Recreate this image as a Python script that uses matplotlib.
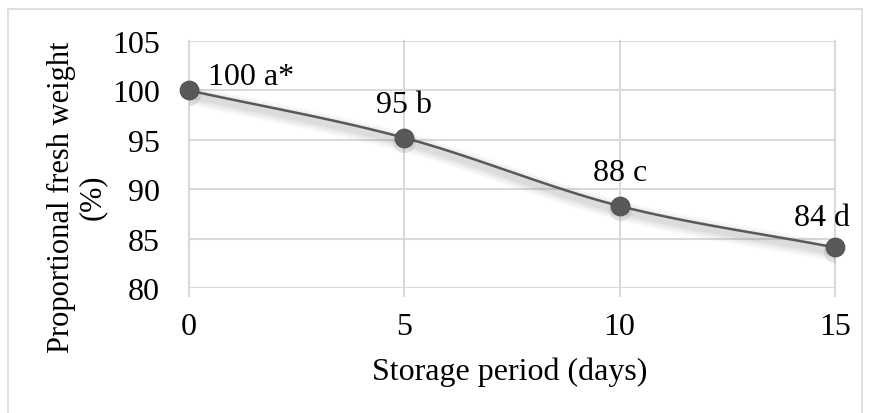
import numpy as np
import matplotlib
matplotlib.use("Agg")
import matplotlib.pyplot as plt
from matplotlib.lines import Line2D

days = [0, 5, 10, 15]
weight = [100.0, 95.2, 88.3, 84.1]
labels = ["100 a*", "95 b", "88 c", "84 d"]
yticks = [80, 85, 90, 95, 100, 105]
xticks = [0, 5, 10, 15]

plt.rcParams['font.family'] = ['Liberation Serif', 'DejaVu Serif']
FS = 23

W, H = 871, 414
PT = 72 / 100  # points per pixel
fig = plt.figure(figsize=(W/100, H/100), dpi=100)
# outer frame
fc = '#d9d9d9'
fig.add_artist(Line2D([8/W, 8/W], [0, 1-10/H], color=fc, lw=1.2, transform=fig.transFigure))
fig.add_artist(Line2D([8/W, 862/W], [1-10/H, 1-10/H], color=fc, lw=1.2, transform=fig.transFigure))
fig.add_artist(Line2D([862/W, 862/W], [0, 1-10/H], color=fc, lw=1.2, transform=fig.transFigure))

x0, x1, yt, yb = 189, 835, 42, 289
ax = fig.add_axes([x0/W, 1-yb/H, (x1-x0)/W, (yb-yt)/H])
ax.set_xlim(0, 15)
ax.set_ylim(80, 105)
ax.set_xticks(xticks)
ax.set_yticks(yticks)
ax.tick_params(axis='both', labelsize=FS, length=0, colors='black')
ax.tick_params(axis='x', pad=24*PT)
ax.tick_params(axis='y', pad=29*PT)
for s in ax.spines.values():
    s.set_visible(False)
gc = '#d9d9d9'
for yv in yticks:
    ax.axhline(yv, color=gc, lw=1.5, zorder=0)
for xv in xticks:
    ax.plot([xv, xv], [80 - 0.8, 105], color=gc, lw=1.5, zorder=0, clip_on=False)

# smooth curve (Catmull-Rom through data points, Excel-like smoothing)
P = np.column_stack([days, weight])
ext = np.vstack([P[0] - (P[1] - P[0]), P, P[-1] + (P[-1] - P[-2])])
xs, ys = [], []
for i in range(1, len(ext) - 2):
    p0, p1, p2, p3 = ext[i-1], ext[i], ext[i+1], ext[i+2]
    t = np.linspace(0, 1, 40)[:, None]
    seg = 0.5 * ((2*p1) + (-p0 + p2)*t + (2*p0 - 5*p1 + 4*p2 - p3)*t**2 + (-p0 + 3*p1 - 3*p2 + p3)*t**3)
    xs.extend(seg[:, 0]); ys.extend(seg[:, 1])
xs = np.array(xs); ys = np.array(ys)

# shadow
for lw, a in [(14, 0.05), (11, 0.06), (8, 0.08), (5, 0.10)]:
    ax.plot(xs, ys - 0.45, color='#7f7f7f', lw=lw, alpha=a, solid_capstyle='round', zorder=2)
ax.scatter(days, np.array(weight) - 0.35, s=280, color='#7f7f7f', alpha=0.18, zorder=2, lw=0)
ax.plot(xs, ys, color='#595959', lw=1.8, zorder=3)
ax.scatter(days, weight, s=180, color='#595959', edgecolor='#505050', lw=0.8, zorder=4, clip_on=False)

offs = [(19, 6, 'left'), (0, 26, 'center'), (0, 26, 'center'), (-13, 22, 'center')]
for d, w, lab, (dx, dy, ha) in zip(days, weight, labels, offs):
    ax.annotate(lab, (d, w), xytext=(dx*PT, dy*PT), textcoords='offset points', ha=ha, va='baseline',
                fontsize=FS, color='black', zorder=5)

fig.text((373+647)/2/W, 1-372/H, "Storage period (days)", ha='center', va='center', fontsize=FS)
fig.text(77/W, 1-197/H, "Proportional fresh weight\n(%)", rotation=90, ha='center', va='center',
         fontsize=22, linespacing=1.1)

fig.savefig("out.png", dpi=100, facecolor='white')
